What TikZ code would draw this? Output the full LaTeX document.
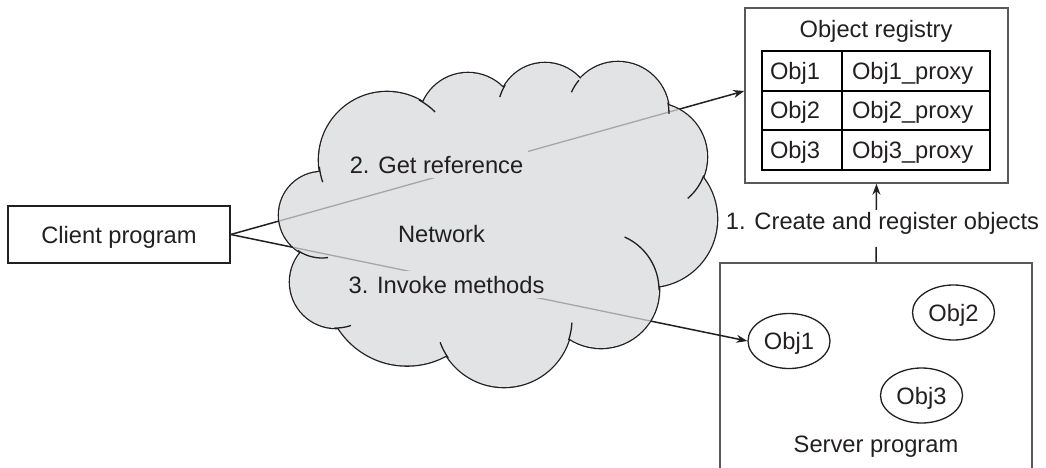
\documentclass[tikz,border=0pt]{standalone}
\usepackage{fontspec}
\setmainfont{Liberation Sans}
\usetikzlibrary{shapes.geometric,arrows.meta,positioning}
\definecolor{cloudgray}{RGB}{226,227,229}
\definecolor{ink}{RGB}{35,31,32}
% bumps of the network cloud: centre x / centre y / radius
\newcommand\netbumps{387/160/68, 468/122/49, 545/110/47, 618/113/51, 653/157/54, 649/219/68, 601/290/58, 504/319/68, 407/284/81.5, 336/282/46, 322/215/43}

\begin{document}
\begin{tikzpicture}[x=1pt, y=1pt, >={Stealth[length=11pt,width=8pt]}, font=\fontsize{23.7}{28}\selectfont, color=ink, line width=1.5pt]
  \tikzset{box/.style={draw, inner sep=0pt, text height=17pt, text depth=0pt},
    cell/.style={draw=black, line width=1.8pt, outer sep=0pt, minimum height=39.7pt, inner xsep=8pt, align=left, text height=17pt, text depth=0pt},
    objnode/.style={ellipse, draw, line width=1.3pt, minimum width=82pt, minimum height=55pt, inner sep=0pt, text height=17pt, text depth=0pt},
    cloudlabel/.style={fill=cloudgray, inner sep=5pt, text height=17pt, text depth=0pt}}
  \useasboundingbox (0,0) rectangle (1046,-468);
  \clip (0,0) rectangle (1046,-468);

  \node[box, minimum width=222pt, minimum height=57pt] (client) at (119,-234.5) {Client program};

  % registry with its table
  \node[box, draw=black!65, minimum width=263pt, minimum height=175pt] (registry) at (876.5,-95.5) {};
  \node[box, draw=none] (regtitle) at (876,-29) {Object registry};
  \foreach \i/\y in {1/70.8, 2/110.5, 3/150.2} {
    \node[cell, text width=64pt] (regobj\i) at (802,-\y) {Obj\i};
    \node[cell, inner xsep=10pt, text width=128pt, right=0pt of regobj\i] (regproxy\i) {Obj\i\_proxy};
  }

  % server side
  \node[box, draw=black!65, minimum width=312pt, minimum height=240pt, anchor=north] (server) at (876,-262) {};
  \node[box, draw=none] (serverlbl) at (876,-443.5) {Server program};
  \node[objnode] (srvobj1) at (789,-341) {Obj1};
  \node[objnode] (srvobj2) at (953.5,-312.5) {Obj2};
  \node[objnode] (srvobj3) at (921.5,-395.5) {Obj3};

  \draw[->] (server.north) -- (registry.south);
  \node[fill=white, inner sep=4pt, text height=15pt, text depth=14pt, anchor=base] (createlbl) at (882.5,-229) {1. Create and register objects};

  \draw[->] (client.east) -- ([yshift=4.5pt]registry.west);
  \draw[->] (client.east) -- (srvobj1.west);

  % the cloud
  \foreach \cx/\cy/\r in \netbumps
    \draw[line width=2.6pt] (\cx,-\cy) circle (\r);
  \foreach \cx/\cy/\r in \netbumps
    \fill[cloudgray] (\cx,-\cy) circle (\r);
  \fill[cloudgray] (500,-225) ellipse [x radius=170, y radius=110];
  \begin{scope}
    \clip \foreach \cx/\cy/\r in \netbumps {(\cx,-\cy) circle (\r)} (500,-225) ellipse [x radius=170, y radius=110];
    \draw[black!35, line width=1.3pt] (client.east) -- ([yshift=4.5pt]registry.west);
    \draw[black!35, line width=1.3pt] (client.east) -- (srvobj1.west);
  \end{scope}
  \foreach \cx/\cy/\r/\a/\b in {387/160/68/186/199, 387/160/68/62/45, 545/110/47/148/164, 618/113/51/140/156, 618/113/51/12/-1, 653/157/54/-20/-50, 601/290/58/66/0, 504/319/68/-18/-3, 504/319/68/215/200, 336/282/46/-92/-71, 322/215/43/-124/-82}
    \draw[line width=1.3pt] (\cx,-\cy) ++(\a:\r) arc[start angle=\a, end angle=\b, radius=\r];

  \node[cloudlabel] (getref) at (436.5,-164.5) {2. Get reference};
  \node[cloudlabel] (netlbl) at (441.5,-233.5) {Network};
  \node[cloudlabel] (invoke) at (446.5,-284.5) {3. Invoke methods};
\end{tikzpicture}
\end{document}
